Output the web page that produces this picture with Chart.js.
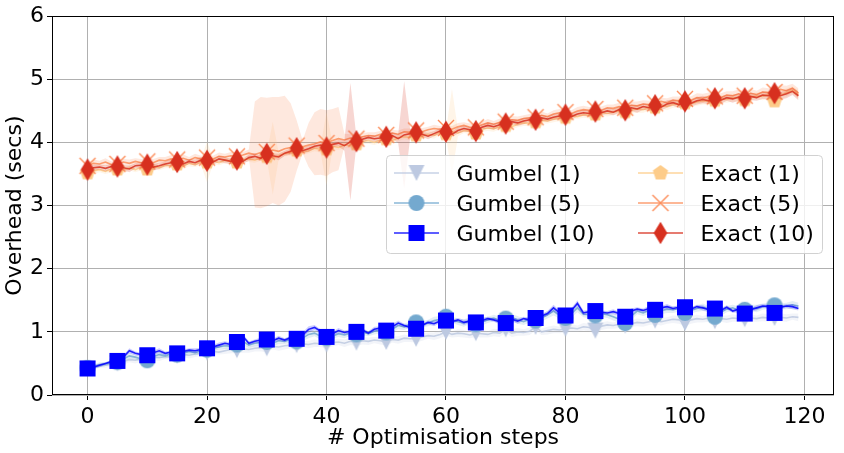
<!DOCTYPE html>
<html>
<head>
<meta charset="utf-8">
<script src="https://cdn.jsdelivr.net/npm/chart.js@4"></script>
<style>
  html, body { margin:0; padding:0; background:#fff; }
  canvas { display:block; }
</style>
</head>
<body>
<canvas id="chart" width="844" height="453"></canvas>
<script>
// x positions (optimisation step index) and tick labels
const steps = Array.from({length:120}, (_, i) => i);
const xTicks = [0,20,40,60,80,100,120];
const yTicks = [0,1,2,3,4,5,6];

const seriesNames = ['Gumbel (1)','Gumbel (5)','Gumbel (10)','Exact (1)','Exact (5)','Exact (10)'];

// mean overhead per step (secs)
const gumbel1 = [
  0.42,0.44,0.46,0.47,0.49, 0.50,0.53,0.56,0.55,0.57, 0.58,0.60,0.59,0.61,0.60, 0.62,0.64,0.63,0.65,0.66,
  0.67,0.69,0.68,0.70,0.72, 0.71,0.73,0.72,0.74,0.75, 0.74,0.77,0.76,0.78,0.79, 0.79,0.81,0.80,0.82,0.81,
  0.80,0.83,0.84,0.82,0.85, 0.83,0.86,0.85,0.87,0.86, 0.84,0.88,0.87,0.90,0.89, 0.89,0.92,0.94,0.93,0.96,
  1.00,0.96,0.98,0.97,0.95, 0.98,0.97,0.96,0.99,0.98, 1.04,0.98,1.00,0.99,1.01, 1.08,1.00,1.02,1.04,1.03,
  1.05,1.06,1.05,1.08,1.07, 1.02,1.09,1.11,1.10,1.12, 1.10,1.13,1.15,1.14,1.16, 1.18,1.16,1.18,1.20,1.19,
  1.14,1.19,1.21,1.20,1.22, 1.17,1.21,1.20,1.22,1.21, 1.20,1.22,1.21,1.23,1.22, 1.22,1.23,1.22,1.24,1.23
];
const gumbel5 = [
  0.43,0.45,0.48,0.49,0.51, 0.52,0.57,0.62,0.60,0.57, 0.55,0.61,0.64,0.62,0.65, 0.64,0.66,0.69,0.67,0.70,
  0.72,0.74,0.76,0.78,0.77, 0.80,0.85,0.79,0.82,0.83, 0.84,0.82,0.86,0.85,0.88, 0.85,0.90,0.96,0.98,0.93,
  0.90,0.93,0.97,0.95,0.98, 0.96,1.00,0.97,1.01,1.03, 0.99,1.04,1.10,1.08,1.12, 1.15,1.12,1.14,1.18,1.20,
  1.24,1.19,1.16,1.14,1.18, 1.12,1.16,1.19,1.22,1.18, 1.21,1.23,1.19,1.16,1.20, 1.18,1.22,1.27,1.33,1.26,
  1.22,1.29,1.38,1.28,1.27, 1.26,1.29,1.27,1.24,1.20, 1.14,1.25,1.33,1.30,1.34, 1.27,1.33,1.36,1.35,1.37,
  1.30,1.34,1.37,1.39,1.36, 1.24,1.31,1.36,1.38,1.34, 1.35,1.38,1.37,1.40,1.41, 1.42,1.40,1.41,1.43,1.41
];
const gumbel10 = [
  0.42,0.44,0.47,0.50,0.53, 0.54,0.60,0.70,0.66,0.64, 0.63,0.67,0.70,0.66,0.68, 0.66,0.69,0.71,0.70,0.72,
  0.74,0.76,0.79,0.82,0.80, 0.84,0.93,0.82,0.85,0.87, 0.88,0.86,0.90,0.87,0.91, 0.89,0.95,1.04,1.07,1.01,
  0.92,0.97,1.02,0.99,1.01, 1.00,1.03,0.98,1.04,1.06, 1.02,1.08,1.14,1.10,1.07, 1.05,1.10,1.15,1.13,1.17,
  1.18,1.16,1.19,1.15,1.17, 1.15,1.18,1.21,1.19,1.16, 1.14,1.20,1.17,1.21,1.19, 1.22,1.25,1.29,1.38,1.30,
  1.26,1.34,1.45,1.30,1.32, 1.33,1.31,1.30,1.32,1.29, 1.24,1.33,1.36,1.34,1.37, 1.35,1.38,1.40,1.37,1.39,
  1.39,1.36,1.40,1.38,1.35, 1.37,1.34,1.39,1.33,1.36, 1.29,1.35,1.38,1.41,1.40, 1.30,1.39,1.41,1.40,1.37
];
const exact1 = [
  3.52,3.55,3.57,3.54,3.58, 3.58,3.56,3.60,3.57,3.61, 3.58,3.62,3.60,3.64,3.63, 3.66,3.63,3.67,3.65,3.69,
  3.69,3.71,3.68,3.72,3.70, 3.69,3.73,3.74,3.72,3.76, 3.78,3.75,3.79,3.82,3.84, 3.88,3.85,3.87,3.91,3.89,
  3.90,3.94,3.92,3.96,3.95, 3.98,4.01,4.03,4.00,4.04, 4.06,4.03,4.07,4.09,4.08, 4.12,4.10,4.13,4.11,4.16,
  4.14,4.17,4.15,4.19,4.18, 4.15,4.21,4.23,4.22,4.25, 4.27,4.25,4.29,4.31,4.30, 4.33,4.35,4.34,4.37,4.39,
  4.40,4.42,4.41,4.44,4.43, 4.45,4.47,4.46,4.48,4.50, 4.49,4.51,4.53,4.52,4.55, 4.56,4.58,4.57,4.60,4.61,
  4.63,4.61,4.64,4.66,4.65, 4.67,4.69,4.68,4.71,4.70, 4.68,4.72,4.74,4.73,4.76, 4.66,4.75,4.79,4.83,4.76
];
const exact5 = [
  3.63,3.67,3.66,3.69,3.65, 3.66,3.69,3.67,3.70,3.68, 3.70,3.68,3.72,3.71,3.74, 3.73,3.75,3.72,3.76,3.74,
  3.76,3.74,3.78,3.77,3.79, 3.78,3.80,3.83,3.81,3.84, 3.85,3.88,3.86,3.90,3.92, 3.95,3.93,3.96,3.98,4.01,
  3.99,4.03,4.06,4.04,4.07, 4.06,4.09,4.11,4.10,4.13, 4.12,4.15,4.13,4.17,4.16, 4.19,4.17,4.20,4.22,4.21,
  4.23,4.21,4.25,4.27,4.24, 4.24,4.28,4.31,4.29,4.32, 4.33,4.36,4.35,4.38,4.39, 4.40,4.43,4.41,4.45,4.47,
  4.48,4.46,4.50,4.52,4.51, 4.53,4.51,4.55,4.54,4.57, 4.55,4.59,4.58,4.61,4.60, 4.62,4.65,4.63,4.67,4.66,
  4.69,4.67,4.71,4.70,4.73, 4.73,4.71,4.75,4.74,4.77, 4.74,4.78,4.76,4.80,4.79, 4.80,4.84,4.82,4.86,4.78
];
const exact10 = [
  3.57,3.60,3.61,3.59,3.62, 3.62,3.60,3.58,3.63,3.64, 3.65,3.61,3.63,3.66,3.68, 3.69,3.66,3.70,3.68,3.72,
  3.71,3.69,3.74,3.72,3.70, 3.73,3.70,3.76,3.78,3.75, 3.82,3.79,3.77,3.83,3.86, 3.91,3.87,3.90,3.94,3.96,
  3.92,3.97,3.99,3.95,4.01, 4.02,4.05,4.08,4.06,4.07, 4.09,4.11,4.06,4.12,4.14, 4.16,4.13,4.10,4.14,4.18,
  4.17,4.13,4.19,4.22,4.20, 4.18,4.24,4.27,4.25,4.28, 4.30,4.33,4.31,4.34,4.36, 4.36,4.39,4.37,4.40,4.42,
  4.44,4.41,4.45,4.47,4.46, 4.49,4.47,4.50,4.48,4.52, 4.51,4.55,4.53,4.57,4.55, 4.59,4.56,4.61,4.63,4.60,
  4.65,4.62,4.66,4.68,4.66, 4.70,4.67,4.71,4.69,4.72, 4.70,4.73,4.71,4.75,4.74, 4.78,4.74,4.77,4.81,4.74
];

// spread (std) per step, drawn as shaded band mean +/- std
const gumbel1Std = [
  .03,.04,.03,.04,.04, .04,.05,.04,.05,.04, .04,.05,.05,.04,.05, .05,.04,.05,.05,.04,
  .05,.05,.04,.05,.06, .05,.06,.05,.05,.06, .06,.05,.06,.06,.05, .06,.05,.06,.06,.05,
  .06,.06,.05,.06,.06, .05,.06,.06,.05,.06, .06,.05,.06,.06,.05, .06,.06,.05,.06,.06,
  .06,.05,.06,.06,.05, .06,.06,.05,.06,.06, .05,.06,.06,.05,.06, .06,.05,.06,.06,.05,
  .06,.06,.05,.06,.06, .05,.06,.06,.05,.06, .06,.05,.06,.06,.05, .06,.06,.05,.06,.06,
  .05,.06,.06,.05,.06, .06,.05,.06,.06,.05, .06,.06,.05,.06,.06, .05,.06,.06,.05,.06
];
const gumbel5Std = [
  .03,.03,.04,.03,.04, .04,.04,.05,.04,.04, .04,.04,.05,.04,.04, .04,.05,.04,.04,.05,
  .04,.05,.04,.05,.04, .05,.05,.04,.05,.05, .04,.05,.05,.04,.05, .05,.05,.06,.05,.05,
  .05,.04,.05,.05,.04, .05,.05,.04,.05,.05, .05,.05,.06,.05,.05, .06,.05,.05,.06,.05,
  .06,.05,.05,.06,.05, .05,.06,.05,.05,.06, .05,.05,.06,.05,.05, .06,.05,.06,.07,.05,
  .05,.06,.07,.05,.05, .06,.05,.05,.06,.05, .05,.06,.05,.05,.06, .05,.05,.06,.05,.05,
  .06,.05,.05,.06,.05, .05,.06,.05,.05,.06, .05,.05,.06,.05,.05, .06,.05,.05,.06,.05
];
const gumbel10Std = [
  .02,.03,.03,.02,.03, .03,.03,.04,.03,.03, .03,.03,.04,.03,.03, .03,.03,.03,.04,.03,
  .03,.03,.04,.03,.03, .03,.04,.03,.03,.04, .03,.03,.04,.03,.03, .03,.04,.05,.04,.03,
  .03,.03,.04,.03,.03, .04,.03,.03,.04,.03, .03,.04,.04,.03,.03, .04,.03,.03,.04,.03,
  .04,.03,.03,.04,.03, .03,.04,.03,.03,.04, .03,.03,.04,.03,.03, .04,.03,.04,.05,.04,
  .03,.04,.05,.04,.03, .04,.03,.03,.04,.03, .03,.04,.03,.03,.04, .03,.03,.04,.03,.03,
  .04,.03,.03,.04,.03, .03,.04,.03,.03,.04, .03,.03,.04,.03,.03, .04,.03,.03,.04,.03
];
const exact1Std = [
  .04,.05,.04,.04,.05, .04,.05,.04,.04,.05, .04,.05,.04,.05,.04, .05,.04,.05,.04,.05,
  .32,.05,.04,.05,.04, .05,.04,.05,.04,.05, .05,.58,.05,.04,.05, .04,.05,.04,.05,.05,
  .58,.05,.04,.05,.04, .05,.04,.05,.04,.05, .05,.04,.05,.04,.05, .05,.04,.05,.05,.04,
  .05,.68,.05,.04,.05, .05,.04,.05,.05,.04, .05,.04,.05,.05,.04, .05,.05,.04,.05,.05,
  .05,.05,.04,.05,.05, .05,.04,.05,.05,.05, .05,.05,.06,.05,.05, .06,.05,.06,.05,.06,
  .06,.05,.06,.06,.05, .06,.06,.05,.06,.06, .06,.06,.05,.06,.06, .07,.06,.07,.06,.07
];
const exact5Std = [
  .05,.06,.05,.06,.05, .06,.05,.06,.05,.06, .05,.06,.05,.06,.06, .05,.06,.05,.06,.05,
  .06,.05,.06,.05,.06, .06,.05,.06,.84,.88, .86,.84,.86,.84,.70, .40,.10,.35,.50,.52,
  .52,.50,.50,.10,.06, .05,.06,.05,.06,.05, .06,.05,.06,.05,.06, .05,.06,.05,.06,.05,
  .06,.05,.06,.05,.06, .06,.05,.06,.05,.06, .05,.06,.06,.05,.06, .05,.06,.05,.06,.06,
  .06,.05,.06,.06,.05, .06,.06,.05,.06,.06, .06,.06,.07,.06,.06, .07,.06,.07,.06,.07,
  .07,.06,.07,.07,.06, .07,.07,.06,.07,.07, .07,.07,.06,.07,.07, .08,.07,.08,.07,.08
];
const exact10Std = [
  .04,.05,.04,.05,.04, .05,.04,.05,.04,.05, .04,.05,.05,.04,.05, .04,.05,.04,.05,.05,
  .05,.04,.05,.05,.04, .05,.04,.05,.05,.04, .05,.04,.05,.04,.05, .05,.04,.05,.04,.05,
  .05,.04,.05,.08,.93, .07,.05,.04,.05,.05, .04,.05,.07,.85,.07, .05,.04,.05,.04,.05,
  .05,.04,.05,.05,.04, .05,.04,.05,.05,.04, .05,.04,.05,.05,.04, .05,.05,.04,.05,.05,
  .05,.05,.04,.05,.05, .05,.04,.05,.05,.05, .05,.05,.06,.05,.05, .06,.05,.06,.05,.06,
  .06,.05,.06,.06,.05, .06,.06,.05,.06,.06, .06,.06,.05,.06,.06, .07,.06,.07,.06,.07
];

const means = [gumbel1, gumbel5, gumbel10, exact1, exact5, exact10];
const stds = [gumbel1Std, gumbel5Std, gumbel10Std, exact1Std, exact5Std, exact10Std];
const colors = ['#bdc9e1','#74a9cf','#0000ff','#fdcc8a','#fc8d59','#d7301f'];
const markers = ['v','o','s','p','x','d'];
const markEvery = 5;

const FONT = 'DejaVu Sans';
Chart.defaults.font.family = FONT;

function rgba(hex, a){
  const n = parseInt(hex.slice(1), 16);
  return `rgba(${n>>16},${(n>>8)&255},${n&255},${a})`;
}

// matplotlib-like marker glyphs (markersize 16)
function makeMarker(shape, color){
  const c = document.createElement('canvas'); c.width = 28; c.height = 28;
  const g = c.getContext('2d');
  const m = 14, h = 8;
  g.fillStyle = color; g.strokeStyle = color;
  g.beginPath();
  if (shape==='v'){ g.moveTo(m-h,m-h); g.lineTo(m+h,m-h); g.lineTo(m,m+h); g.closePath(); g.fill(); }
  else if (shape==='o'){ g.arc(m,m,h,0,Math.PI*2); g.fill(); }
  else if (shape==='s'){ g.rect(m-h,m-h,2*h,2*h); g.fill(); }
  else if (shape==='p'){
    for (let k=0;k<5;k++){ const a = -Math.PI/2 + k*2*Math.PI/5; g.lineTo(m+h*Math.cos(a), m+h*Math.sin(a)); }
    g.closePath(); g.fill();
  }
  else if (shape==='x'){ g.lineWidth = 1.4; g.moveTo(m-h,m-h); g.lineTo(m+h,m+h); g.moveTo(m+h,m-h); g.lineTo(m-h,m+h); g.stroke(); }
  else if (shape==='d'){ const dy = 11.3, dx = 6.8; g.moveTo(m,m-dy); g.lineTo(m+dx,m); g.lineTo(m,m+dy); g.lineTo(m-dx,m); g.closePath(); g.fill(); }
  return c;
}
const markerImgs = markers.map((s,i)=>makeMarker(s, colors[i]));

// datasets: band (upper + lower filled to it) then mean line, series after series
const datasets = [];
means.forEach((mean, i) => {
  const base = 100 - 10*i;
  datasets.push({
    label: seriesNames[i] + ' upper',
    data: steps.map(x => ({x, y: mean[x] + stds[i][x]})),
    borderColor: 'transparent', borderWidth: 0, pointRadius: 0, fill: false, order: base + 2
  });
  datasets.push({
    label: seriesNames[i] + ' lower',
    data: steps.map(x => ({x, y: mean[x] - stds[i][x]})),
    borderColor: 'transparent', borderWidth: 0, pointRadius: 0,
    fill: '-1', backgroundColor: rgba(colors[i], 0.2), order: base + 1
  });
  datasets.push({
    label: seriesNames[i],
    data: steps.map(x => ({x, y: mean[x]})),
    borderColor: rgba(colors[i], 0.85), borderWidth: 1.6, tension: 0, fill: false,
    pointStyle: markerImgs[i],
    pointRadius: ctx => ctx.dataIndex % markEvery === 0 ? 5 : 0,
    order: base
  });
});

const spines = {
  id: 'spines',
  afterDatasetsDraw(chart){
    const {ctx, chartArea:a} = chart;
    ctx.save();
    ctx.strokeStyle = '#000'; ctx.lineWidth = 1;
    ctx.strokeRect(Math.round(a.left)+0.5, Math.round(a.top)+0.5, Math.round(a.right-a.left)-1, Math.round(a.bottom-a.top)-1);
    ctx.restore();
  }
};

const boxLegend = {
  id: 'boxLegend',
  afterDraw(chart){
    const ctx = chart.ctx;
    ctx.save();
    ctx.beginPath();
    ctx.roundRect(386.5, 155.5, 436, 98, 4);
    ctx.fillStyle = 'rgba(255,255,255,0.8)'; ctx.fill();
    ctx.strokeStyle = 'rgba(204,204,204,0.9)'; ctx.lineWidth = 1; ctx.stroke();
    ctx.font = `22px "${FONT}"`;
    ctx.textBaseline = 'alphabetic';
    seriesNames.forEach((name, i) => {
      const col = Math.floor(i/3), row = i % 3;
      const x0 = col ? 638 : 394, y = 173 + row*30;
      ctx.strokeStyle = rgba(colors[i], 0.85); ctx.lineWidth = 1.6;
      ctx.beginPath(); ctx.moveTo(x0, y); ctx.lineTo(x0+45, y); ctx.stroke();
      ctx.drawImage(markerImgs[i], x0 + 22.5 - 14, y - 14);
      ctx.fillStyle = '#000';
      ctx.fillText(name, x0 + 62.5, y + 8);
    });
    ctx.restore();
  }
};

const tickFont = {size: 22, family: FONT};

new Chart(document.getElementById('chart'), {
  type: 'line',
  data: {datasets},
  options: {
    responsive: false,
    animation: false,
    devicePixelRatio: 1,
    layout: {padding: {top: 14, right: 10, left: 0, bottom: 0}},
    plugins: {legend: {display: false}, tooltip: {enabled: false}},
    scales: {
      x: {
        type: 'linear', min: -5.95, max: 124.95,
        afterBuildTicks: s => { s.ticks = xTicks.map(v => ({value: v})); },
        afterFit: s => { s.height = 58; },
        ticks: {font: tickFont, color: '#000', padding: 4, maxRotation: 0},
        grid: {color: '#b0b0b0', lineWidth: 1, tickColor: '#000', tickLength: 5},
        border: {display: false},
        title: {display: true, text: '# Optimisation steps', font: tickFont, color: '#000', padding: {top: 0, bottom: 2}}
      },
      y: {
        min: 0, max: 6,
        afterBuildTicks: s => { s.ticks = yTicks.map(v => ({value: v})); },
        afterFit: s => { s.width = 52; },
        ticks: {font: tickFont, color: '#000', padding: 3},
        grid: {color: '#b0b0b0', lineWidth: 1, tickColor: '#000', tickLength: 5},
        border: {display: false},
        title: {display: true, text: 'Overhead (secs)', font: tickFont, color: '#000', padding: {top: 2, bottom: 0}}
      }
    }
  },
  plugins: [spines, boxLegend]
});
</script>
</body>
</html>
